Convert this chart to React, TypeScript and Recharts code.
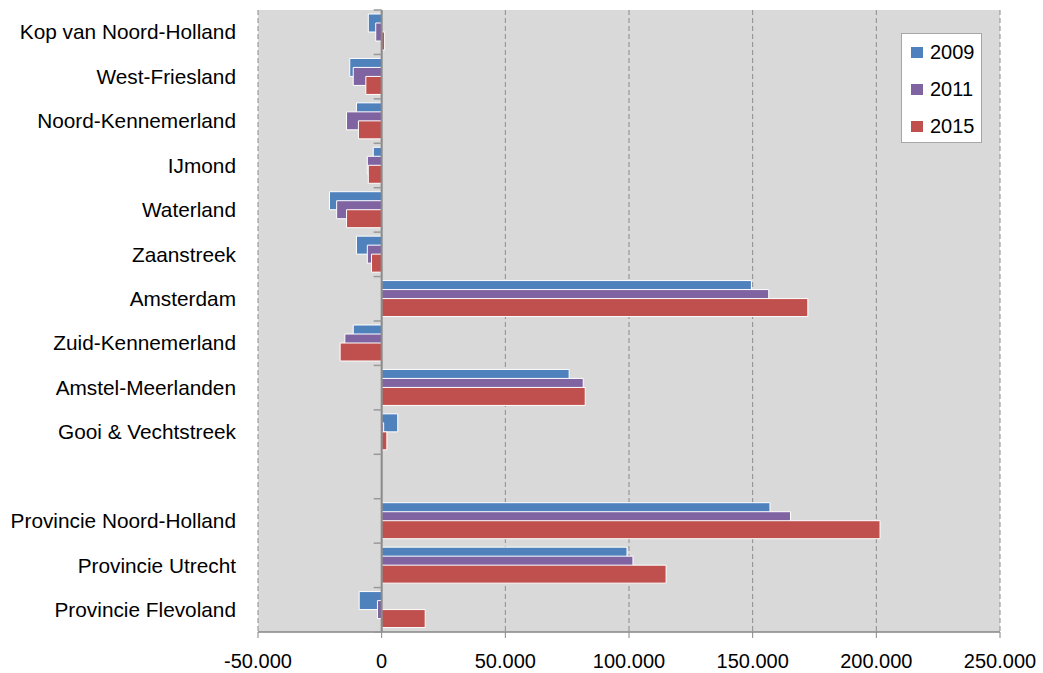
import React from "react";
import {
  BarChart,
  Bar,
  XAxis,
  YAxis,
  CartesianGrid,
  ReferenceLine
} from "recharts";

const regions = [
  "Kop van Noord-Holland",
  "West-Friesland",
  "Noord-Kennemerland",
  "IJmond",
  "Waterland",
  "Zaanstreek",
  "Amsterdam",
  "Zuid-Kennemerland",
  "Amstel-Meerlanden",
  "Gooi & Vechtstreek",
  "",
  "Provincie Noord-Holland",
  "Provincie Utrecht",
  "Provincie Flevoland"
];

const y2009 = [-5400, -12900, -10200, -3400, -21100, -10200, 149500, -11500, 75800, 6500, 0, 157000, 99200, -9100];
const y2011 = [-2400, -11500, -14200, -5800, -18200, -5800, 156500, -14900, 81500, 800, 0, 165300, 101600, -1700];
const y2015 = [1200, -6400, -9400, -5400, -14200, -4100, 172300, -16800, 82300, 2100, 0, 201500, 115000, 17600];

const xTicks = [-50000, 0, 50000, 100000, 150000, 200000, 250000];

const series = [
  { key: "y2009", label: "2009", color: "#4F81BD" },
  { key: "y2011", label: "2011", color: "#8064A2" },
  { key: "y2015", label: "2015", color: "#C0504D" }
];

const data = regions.map((name, i) => ({
  name,
  y2009: y2009[i],
  y2011: y2011[i],
  y2015: y2015[i]
}));

const W = 1043;
const H = 673;
const PLOT_LEFT = 258;
const PLOT_RIGHT = 1000;
const PLOT_TOP = 10;
const PLOT_BOTTOM = 632;
const X_MIN = -50000;
const X_MAX = 250000;
const FONT = "'Liberation Sans', Arial, sans-serif";

const band = (PLOT_BOTTOM - PLOT_TOP) / regions.length;
const zeroX = PLOT_LEFT + ((0 - X_MIN) / (X_MAX - X_MIN)) * (PLOT_RIGHT - PLOT_LEFT);

function fmt(v: number) {
  const s = Math.abs(v).toString().replace(/\B(?=(\d{3})+(?!\d))/g, ".");
  return v < 0 ? "-" + s : s;
}

function CategoryTick(props: any) {
  const { y, payload, index } = props;
  const last = index === regions.length - 1;
  return (
    <g>
      <text
        x={PLOT_LEFT - 22}
        y={y}
        dy="0.35em"
        textAnchor="end"
        fill="#000"
        fontSize={20.8}
        fontFamily={FONT}
      >
        {payload.value}
      </text>
      <line x1={zeroX - 8} x2={zeroX} y1={y - band / 2} y2={y - band / 2} stroke="#999" strokeWidth={1.5} />
      {last && (
        <line x1={zeroX - 8} x2={zeroX} y1={y + band / 2} y2={y + band / 2} stroke="#999" strokeWidth={1.5} />
      )}
    </g>
  );
}

// legend sits on top of the plot, so it's drawn as an overlay
function LegendBox() {
  return (
    <div
      style={{
        position: "absolute",
        left: 901,
        top: 33,
        background: "#fff",
        border: "1px solid #a6a6a6",
        width: 81,
        height: 110,
        boxSizing: "border-box",
        paddingTop: 0,
        fontFamily: FONT,
        fontSize: 20
      }}
    >
      {series.map(s => (
        <div key={s.key} style={{ display: "flex", alignItems: "center", height: 37 }}>
          <span
            style={{
              display: "inline-block",
              width: 12,
              height: 11,
              background: s.color,
              marginLeft: 9,
              marginRight: 7
            }}
          />
          <span style={{ color: "#000" }}>{s.label}</span>
        </div>
      ))}
    </div>
  );
}

export default function App() {
  return (
    <div style={{ position: "absolute", left: 0, top: 0, width: W, height: H, background: "#fff" }}>
      <BarChart
        width={W}
        height={H}
        data={data}
        layout="vertical"
        margin={{ top: PLOT_TOP, right: W - PLOT_RIGHT, bottom: 0, left: 0 }}
        barSize={18}
        barGap={-9}
      >
        <CartesianGrid
          horizontal={false}
          stroke="#8c8c8c"
          strokeDasharray="5 3"
          fill="#D9D9D9"
          fillOpacity={1}
        />
        <XAxis
          type="number"
          domain={[X_MIN, X_MAX]}
          ticks={xTicks}
          tickFormatter={fmt}
          height={H - PLOT_BOTTOM}
          axisLine={{ stroke: "#868686", strokeWidth: 1.5 }}
          tickLine={{ stroke: "#868686" }}
          tickSize={6}
          tickMargin={16}
          tick={{ fill: "#000", fontSize: 20, fontFamily: FONT }}
          interval={0}
        />
        <YAxis
          type="category"
          dataKey="name"
          width={PLOT_LEFT}
          axisLine={false}
          tickLine={false}
          interval={0}
          tick={<CategoryTick />}
        />
        {series.map(s => (
          <Bar
            key={s.key}
            dataKey={s.key}
            fill={s.color}
            stroke="#fff"
            strokeWidth={1}
            isAnimationActive={false}
          />
        ))}
        <ReferenceLine x={0} stroke="#8a8a8a" strokeWidth={2} />
      </BarChart>
      <LegendBox />
    </div>
  );
}
